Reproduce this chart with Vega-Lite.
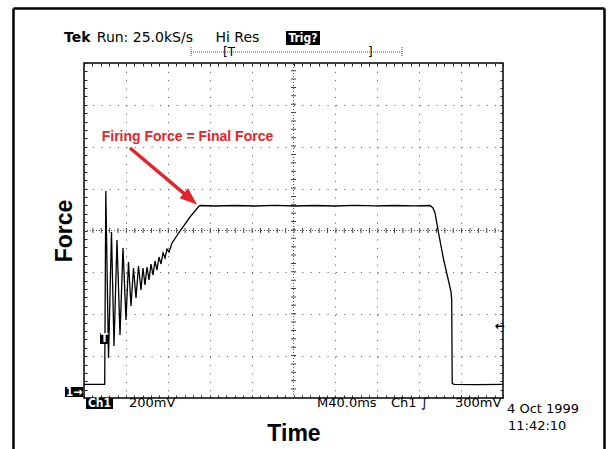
{
  "$schema": "https://vega.github.io/schema/vega-lite/v6.json",
  "width": 419,
  "height": 335,
  "autosize": {"type": "none"},
  "padding": {"left": 84, "top": 63, "right": 106, "bottom": 51},
  "background": "white",
  "config": {
    "view": {"stroke": "black", "strokeWidth": 1.5},
    "axis": {"labels": false, "domain": false}
  },
  "resolve": {"axis": {"x": "independent", "y": "independent"}},
  "datasets": {
    "frame": [
      {"t": -67.3, "t2": -67.3, "div": 5.302, "div2": -5.6},
      {"t": -67.3, "t2": 496.9, "div": 5.302, "div2": 5.302},
      {"t": 496.9, "t2": 496.9, "div": 5.302, "div2": -5.6}
    ],
    "centerH": [{"t": 0, "t2": 400, "div": 0}],
    "centerV": [{"t": 200, "div": -4, "div2": 4}],
    "trace": [
      {"t": 0, "div": -3.673}, {"t": 10.5, "div": -3.673}, {"t": 19.76, "div": -3.673},
      {"t": 20.81, "div": 0.943}, {"t": 23.39, "div": -3.045}, {"t": 26.25, "div": -0.036},
      {"t": 28.64, "div": -2.758}, {"t": 31.5, "div": -0.227}, {"t": 34.37, "div": -2.496},
      {"t": 37.23, "div": -0.418}, {"t": 40.1, "div": -2.137}, {"t": 42.48, "div": -0.752},
      {"t": 44.87, "div": -1.803}, {"t": 47.26, "div": -0.896}, {"t": 49.64, "div": -1.612},
      {"t": 52.03, "div": -0.848}, {"t": 54.42, "div": -1.421}, {"t": 56.32, "div": -0.896},
      {"t": 58.23, "div": -1.302}, {"t": 60.14, "div": -0.872}, {"t": 62.05, "div": -1.182},
      {"t": 63.96, "div": -0.8}, {"t": 65.87, "div": -1.063}, {"t": 67.78, "div": -0.728},
      {"t": 69.69, "div": -0.943}, {"t": 71.6, "div": -0.633}, {"t": 73.51, "div": -0.8},
      {"t": 75.42, "div": -0.537}, {"t": 77.33, "div": -0.657}, {"t": 79.24, "div": -0.442},
      {"t": 81.15, "div": -0.513}, {"t": 84.01, "div": -0.299}, {"t": 87.83, "div": -0.155},
      {"t": 91.65, "div": -0.012}, {"t": 96.42, "div": 0.155}, {"t": 101.19, "div": 0.322},
      {"t": 105.97, "div": 0.466}, {"t": 109.78, "div": 0.585}, {"t": 111.69, "div": 0.597},
      {"t": 125.06, "div": 0.585}, {"t": 144.15, "div": 0.597}, {"t": 163.25, "div": 0.585},
      {"t": 182.34, "div": 0.602}, {"t": 201.43, "div": 0.585}, {"t": 220.52, "div": 0.597},
      {"t": 239.62, "div": 0.585}, {"t": 258.71, "div": 0.602}, {"t": 277.8, "div": 0.59},
      {"t": 296.9, "div": 0.597}, {"t": 315.99, "div": 0.59}, {"t": 330.31, "div": 0.597},
      {"t": 333.17, "div": 0.537}, {"t": 335.08, "div": 0.418}, {"t": 338.23, "div": -0.029},
      {"t": 343.0, "div": -0.657}, {"t": 347.78, "div": -1.182}, {"t": 350.36, "div": -1.461},
      {"t": 351.03, "div": -1.66}, {"t": 351.51, "div": -3.649}, {"t": 353.22, "div": -3.673},
      {"t": 375, "div": -3.68}, {"t": 400, "div": -3.673}
    ],
    "recordBar": [{"t": 102.15, "t2": 303.58, "div": 4.263}],
    "recordEnds": [
      {"t": 102.15, "div": 4.382, "div2": 4.143},
      {"t": 303.58, "div": 4.382, "div2": 4.143}
    ],
    "boxes": [
      {"t": 192.8, "t2": 225.3, "div": 4.764, "div2": 4.43},
      {"t": 1.91, "t2": 27.69, "div": -4.0, "div2": -4.263},
      {"t": -18.14, "t2": -0.95, "div": -3.737, "div2": -3.976},
      {"t": 15.27, "t2": 23.87, "div": -2.448, "div2": -2.71}
    ],
    "boxText": [
      {"label": "Trig?", "t": 209.0, "div": 4.597},
      {"label": "Ch1", "t": 14.8, "div": -4.131},
      {"label": "1→", "t": -9.55, "div": -3.857},
      {"label": "T", "t": 19.57, "div": -2.579}
    ],
    "topText": [
      {"label": "Run: 25.0kS/s", "t": 12.2, "div": 4.597},
      {"label": "Hi Res", "t": 125.5, "div": 4.597}
    ],
    "barText": [
      {"label": "[T", "t": 132.7, "div": 4.263},
      {"label": "]", "t": 271.1, "div": 4.263}
    ],
    "bottomText": [
      {"label": "200mV", "t": 42.96, "div": -4.119},
      {"label": "M40.0ms", "t": 222.43, "div": -4.119},
      {"label": "Ch1", "t": 293.08, "div": -4.119},
      {"label": "∫", "t": 321.72, "div": -4.119},
      {"label": "300mV", "t": 354.17, "div": -4.119},
      {"label": "4 Oct 1999", "t": 403.82, "div": -4.263},
      {"label": "11:42:10", "t": 404.77, "div": -4.669}
    ],
    "tek": [{"label": "Tek", "t": -19.1, "div": 4.597}],
    "marker": [{"label": "←", "t": 401.9, "div": -2.281}],
    "redText": [{"label": "Firing Force = Final Force", "t": 16.9, "div": 2.221}],
    "arrow": [{"t": 43.91, "div": 1.97, "t2": 101.58, "div2": 0.755}],
    "arrowHead": [{"t": 101.58, "div": 0.755}]
  },
  "layer": [
    {
      "data": {"name": "frame"},
      "mark": {"type": "rule", "color": "black", "strokeWidth": 2.5},
      "encoding": {
        "x": {"field": "t", "type": "quantitative", "scale": {"domain": [0, 400], "nice": false, "zero": false}, "axis": null},
        "x2": {"field": "t2"},
        "y": {"field": "div", "type": "quantitative", "scale": {"domain": [-4, 4], "nice": false, "zero": false}, "axis": null},
        "y2": {"field": "div2"}
      }
    },
    {
      "data": {"name": "centerH"},
      "mark": {"type": "rule", "color": "#555", "strokeWidth": 1, "strokeDash": [1, 2]},
      "encoding": {
        "x": {"field": "t", "type": "quantitative", "scale": {"domain": [0, 400], "nice": false, "zero": false},
          "axis": {"orient": "bottom", "values": [40, 80, 120, 160, 240, 280, 320, 360], "grid": true, "gridDash": [1, 7.38], "gridColor": "#555", "gridWidth": 1, "ticks": false, "labels": false, "domain": false, "title": null}},
        "x2": {"field": "t2"},
        "y": {"field": "div", "type": "quantitative", "scale": {"domain": [-4, 4], "nice": false, "zero": false},
          "axis": {"orient": "left", "values": [-3, -2, -1, 1, 2, 3], "grid": true, "gridDash": [1, 7.38], "gridColor": "#555", "gridWidth": 1, "ticks": false, "labels": false, "domain": false, "title": null}}
      }
    },
    {
      "data": {"name": "centerH"},
      "mark": {"type": "rule", "color": "#444", "strokeWidth": 5, "strokeDash": [1, 7.38]},
      "encoding": {
        "x": {"field": "t", "type": "quantitative", "scale": {"domain": [0, 400], "nice": false, "zero": false}, "axis": null},
        "x2": {"field": "t2"},
        "y": {"field": "div", "type": "quantitative", "scale": {"domain": [-4, 4], "nice": false, "zero": false}, "axis": null}
      }
    },
    {
      "data": {"name": "centerV"},
      "mark": {"type": "rule", "color": "#555", "strokeWidth": 1, "strokeDash": [1, 2]},
      "encoding": {
        "x": {"field": "t", "type": "quantitative", "scale": {"domain": [0, 400], "nice": false, "zero": false},
          "axis": {"orient": "top", "values": [0,8,16,24,32,40,48,56,64,72,80,88,96,104,112,120,128,136,144,152,160,168,176,184,192,200,208,216,224,232,240,248,256,264,272,280,288,296,304,312,320,328,336,344,352,360,368,376,384,392,400], "ticks": true, "tickSize": -3, "tickColor": "#222", "tickWidth": 1, "labels": false, "domain": false, "grid": false, "title": null}},
        "y": {"field": "div", "type": "quantitative", "scale": {"domain": [-4, 4], "nice": false, "zero": false},
          "axis": {"orient": "right", "values": [-4,-3.8,-3.6,-3.4,-3.2,-3,-2.8,-2.6,-2.4,-2.2,-2,-1.8,-1.6,-1.4,-1.2,-1,-0.8,-0.6,-0.4,-0.2,0,0.2,0.4,0.6,0.8,1,1.2,1.4,1.6,1.8,2,2.2,2.4,2.6,2.8,3,3.2,3.4,3.6,3.8,4], "ticks": true, "tickSize": -3, "tickColor": "#222", "tickWidth": 1, "labels": false, "domain": false, "grid": false, "title": null}},
        "y2": {"field": "div2"}
      }
    },
    {
      "data": {"name": "centerV"},
      "mark": {"type": "rule", "color": "#444", "strokeWidth": 5, "strokeDash": [1, 7.38]},
      "encoding": {
        "x": {"field": "t", "type": "quantitative", "scale": {"domain": [0, 400], "nice": false, "zero": false}, "axis": null},
        "y": {"field": "div", "type": "quantitative", "scale": {"domain": [-4, 4], "nice": false, "zero": false}, "axis": null},
        "y2": {"field": "div2"}
      }
    },
    {
      "data": {"name": "trace"},
      "mark": {"type": "line", "color": "black", "strokeWidth": 1.3, "interpolate": "linear"},
      "encoding": {
        "x": {"field": "t", "type": "quantitative", "scale": {"domain": [0, 400], "nice": false, "zero": false},
          "axis": {"orient": "bottom", "values": [0,8,16,24,32,40,48,56,64,72,80,88,96,104,112,120,128,136,144,152,160,168,176,184,192,200,208,216,224,232,240,248,256,264,272,280,288,296,304,312,320,328,336,344,352,360,368,376,384,392,400], "ticks": true, "tickSize": -3, "tickColor": "#222", "tickWidth": 1, "labels": false, "domain": false, "grid": false,
            "title": "Time", "titleFont": "Liberation Sans", "titleFontSize": 23, "titleFontWeight": "bold", "titleColor": "black", "titlePadding": 24}},
        "y": {"field": "div", "type": "quantitative", "scale": {"domain": [-4, 4], "nice": false, "zero": false},
          "axis": {"orient": "left", "values": [-4,-3.8,-3.6,-3.4,-3.2,-3,-2.8,-2.6,-2.4,-2.2,-2,-1.8,-1.6,-1.4,-1.2,-1,-0.8,-0.6,-0.4,-0.2,0,0.2,0.4,0.6,0.8,1,1.2,1.4,1.6,1.8,2,2.2,2.4,2.6,2.8,3,3.2,3.4,3.6,3.8,4], "ticks": true, "tickSize": -3, "tickColor": "#222", "tickWidth": 1, "labels": false, "domain": false, "grid": false,
            "title": "Force", "titleFont": "Liberation Sans", "titleFontSize": 23, "titleFontWeight": "bold", "titleColor": "black", "titlePadding": 7}}
      }
    },
    {
      "data": {"name": "recordBar"},
      "mark": {"type": "rule", "color": "#555", "strokeWidth": 1, "strokeDash": [1, 1]},
      "encoding": {
        "x": {"field": "t", "type": "quantitative", "scale": {"domain": [0, 400], "nice": false, "zero": false}, "axis": null},
        "x2": {"field": "t2"},
        "y": {"field": "div", "type": "quantitative", "scale": {"domain": [-4, 4], "nice": false, "zero": false}, "axis": null}
      }
    },
    {
      "data": {"name": "recordEnds"},
      "mark": {"type": "rule", "color": "#555", "strokeWidth": 1, "strokeDash": [1, 1]},
      "encoding": {
        "x": {"field": "t", "type": "quantitative", "scale": {"domain": [0, 400], "nice": false, "zero": false}, "axis": null},
        "y": {"field": "div", "type": "quantitative", "scale": {"domain": [-4, 4], "nice": false, "zero": false}, "axis": null},
        "y2": {"field": "div2"}
      }
    },
    {
      "data": {"name": "boxes"},
      "mark": {"type": "rect", "color": "black"},
      "encoding": {
        "x": {"field": "t", "type": "quantitative", "scale": {"domain": [0, 400], "nice": false, "zero": false}, "axis": null},
        "x2": {"field": "t2"},
        "y": {"field": "div", "type": "quantitative", "scale": {"domain": [-4, 4], "nice": false, "zero": false}, "axis": null},
        "y2": {"field": "div2"}
      }
    },
    {
      "data": {"name": "boxText"},
      "mark": {"type": "text", "color": "white", "font": "DejaVu Sans Condensed", "fontWeight": "bold", "fontSize": 12, "align": "center", "baseline": "middle"},
      "encoding": {
        "x": {"field": "t", "type": "quantitative", "scale": {"domain": [0, 400], "nice": false, "zero": false}, "axis": null},
        "y": {"field": "div", "type": "quantitative", "scale": {"domain": [-4, 4], "nice": false, "zero": false}, "axis": null},
        "text": {"field": "label"}
      }
    },
    {
      "data": {"name": "topText"},
      "mark": {"type": "text", "color": "black", "font": "DejaVu Sans", "fontSize": 14, "align": "left", "baseline": "middle"},
      "encoding": {
        "x": {"field": "t", "type": "quantitative", "scale": {"domain": [0, 400], "nice": false, "zero": false}, "axis": null},
        "y": {"field": "div", "type": "quantitative", "scale": {"domain": [-4, 4], "nice": false, "zero": false}, "axis": null},
        "text": {"field": "label"}
      }
    },
    {
      "data": {"name": "barText"},
      "mark": {"type": "text", "color": "black", "font": "DejaVu Sans", "fontSize": 12, "align": "left", "baseline": "middle"},
      "encoding": {
        "x": {"field": "t", "type": "quantitative", "scale": {"domain": [0, 400], "nice": false, "zero": false}, "axis": null},
        "y": {"field": "div", "type": "quantitative", "scale": {"domain": [-4, 4], "nice": false, "zero": false}, "axis": null},
        "text": {"field": "label"}
      }
    },
    {
      "data": {"name": "bottomText"},
      "mark": {"type": "text", "color": "black", "font": "DejaVu Sans", "fontSize": 13, "align": "left", "baseline": "middle"},
      "encoding": {
        "x": {"field": "t", "type": "quantitative", "scale": {"domain": [0, 400], "nice": false, "zero": false}, "axis": null},
        "y": {"field": "div", "type": "quantitative", "scale": {"domain": [-4, 4], "nice": false, "zero": false}, "axis": null},
        "text": {"field": "label"}
      }
    },
    {
      "data": {"name": "tek"},
      "mark": {"type": "text", "color": "black", "font": "DejaVu Sans", "fontWeight": "bold", "fontSize": 14, "align": "left", "baseline": "middle"},
      "encoding": {
        "x": {"field": "t", "type": "quantitative", "scale": {"domain": [0, 400], "nice": false, "zero": false}, "axis": null},
        "y": {"field": "div", "type": "quantitative", "scale": {"domain": [-4, 4], "nice": false, "zero": false}, "axis": null},
        "text": {"field": "label"}
      }
    },
    {
      "data": {"name": "marker"},
      "mark": {"type": "text", "color": "black", "font": "DejaVu Sans", "fontWeight": "bold", "fontSize": 12, "align": "right", "baseline": "middle"},
      "encoding": {
        "x": {"field": "t", "type": "quantitative", "scale": {"domain": [0, 400], "nice": false, "zero": false}, "axis": null},
        "y": {"field": "div", "type": "quantitative", "scale": {"domain": [-4, 4], "nice": false, "zero": false}, "axis": null},
        "text": {"field": "label"}
      }
    },
    {
      "data": {"name": "redText"},
      "mark": {"type": "text", "color": "#e5232b", "font": "Liberation Sans", "fontWeight": "bold", "fontSize": 14, "align": "left", "baseline": "middle"},
      "encoding": {
        "x": {"field": "t", "type": "quantitative", "scale": {"domain": [0, 400], "nice": false, "zero": false}, "axis": null},
        "y": {"field": "div", "type": "quantitative", "scale": {"domain": [-4, 4], "nice": false, "zero": false}, "axis": null},
        "text": {"field": "label"}
      }
    },
    {
      "data": {"name": "arrow"},
      "mark": {"type": "rule", "color": "#e5232b", "strokeWidth": 3.5},
      "encoding": {
        "x": {"field": "t", "type": "quantitative", "scale": {"domain": [0, 400], "nice": false, "zero": false}, "axis": null},
        "x2": {"field": "t2"},
        "y": {"field": "div", "type": "quantitative", "scale": {"domain": [-4, 4], "nice": false, "zero": false}, "axis": null},
        "y2": {"field": "div2"}
      }
    },
    {
      "data": {"name": "arrowHead"},
      "mark": {"type": "point", "shape": "M1,0L-1,-0.75L-1,0.75Z", "filled": true, "color": "#e5232b", "opacity": 1, "size": 300, "angle": 40.4},
      "encoding": {
        "x": {"field": "t", "type": "quantitative", "scale": {"domain": [0, 400], "nice": false, "zero": false}, "axis": null},
        "y": {"field": "div", "type": "quantitative", "scale": {"domain": [-4, 4], "nice": false, "zero": false}, "axis": null}
      }
    }
  ]
}
